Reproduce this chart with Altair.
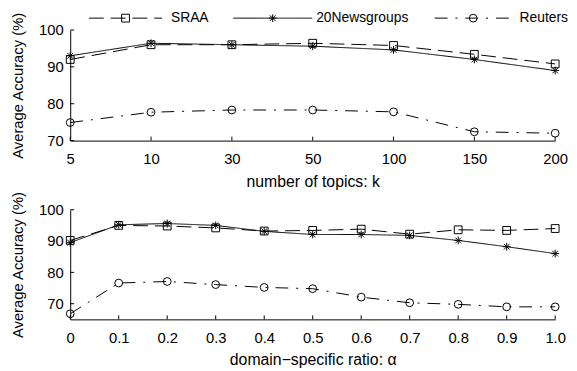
import altair as alt
import pandas as pd

# ---------------- data ----------------
series = ["SRAA", "20Newsgroups", "Reuters"]

k_labels = ["5", "10", "30", "50", "100", "150", "200"]
sraa_k = [92.0, 96.0, 96.0, 96.4, 95.8, 93.4, 90.8]
news_k = [93.0, 96.4, 96.0, 95.6, 94.6, 92.0, 89.0]
reuters_k = [74.9, 77.7, 78.3, 78.3, 77.8, 72.4, 72.0]

alpha_labels = ["0", "0.1", "0.2", "0.3", "0.4", "0.5", "0.6", "0.7", "0.8", "0.9", "1.0"]
sraa_a = [90.2, 95.0, 94.8, 94.2, 93.2, 93.4, 93.8, 92.2, 93.6, 93.4, 94.0]
news_a = [89.5, 95.2, 95.6, 95.0, 93.1, 92.1, 92.1, 91.8, 90.2, 88.2, 86.0]
reuters_a = [66.8, 76.6, 77.1, 76.1, 75.2, 74.8, 72.1, 70.3, 69.8, 69.0, 69.0]

y_ticks = [70, 80, 90, 100]

# ---------------- styles ----------------
FONT = "Liberation Sans"
W = 491
H_TOP = 112
H_BOT = 111
ASTERISK = "M-1,0L1,0M0,-1L0,1M-0.72,-0.72L0.72,0.72M-0.72,0.72L0.72,-0.72"
shapes = ["square", ASTERISK, "circle"]
dashes = [[15, 7], [1, 0], [13, 8, 2, 8]]


def long_df(xname, labels, cols):
    rows = []
    for s, vals in zip(series, cols):
        for lab, v in zip(labels, vals):
            rows.append({xname: lab, "series": s, "acc": v})
    return pd.DataFrame(rows)


df_k = long_df("k", k_labels, [sraa_k, news_k, reuters_k])
df_a = long_df("a", alpha_labels, [sraa_a, news_a, reuters_a])


def panel(df, xname, labels, title, ymin, h, with_legend):
    xs = alt.Scale(type="point", padding=0, domain=labels)
    ys = alt.Scale(domain=[ymin, 100], nice=False, zero=False)
    x_axis = alt.Axis(title=title, labelAngle=0, ticks=False, labelPadding=11,
                      titlePadding=7, domainColor="black", labelColor="black",
                      titleColor="black", grid=False, labelFont=FONT, titleFont=FONT,
                      labelFontSize=15, titleFontSize=16, titleFontWeight="normal")
    y_axis = alt.Axis(title="Average Accuracy (%)", values=y_ticks, ticks=False,
                      labelPadding=7, titlePadding=13, domainColor="black",
                      labelColor="black", titleColor="black", grid=False, labelFont=FONT,
                      titleFont=FONT, labelFontSize=15, titleFontSize=15,
                      titleFontWeight="normal")
    base = alt.Chart(df)
    x = alt.X(f"{xname}:O", scale=xs, axis=x_axis, sort=labels)
    y = alt.Y("acc:Q", scale=ys, axis=y_axis)
    lines = base.mark_line(color="black", strokeWidth=1).encode(
        x=x, y=y,
        strokeDash=alt.StrokeDash("series:N", scale=alt.Scale(domain=series, range=dashes), legend=None),
    )
    points = base.mark_point(color="black", filled=False, strokeWidth=1, opacity=1, size=62).encode(
        x=x, y=y,
        shape=alt.Shape("series:N", scale=alt.Scale(domain=series, range=shapes), legend=None),
    )
    xt = alt.Chart(pd.DataFrame({xname: labels})).mark_rule(color="black", strokeWidth=1).encode(
        x=alt.X(f"{xname}:O", scale=xs, sort=labels, axis=x_axis),
        y=alt.value(h), y2=alt.value(h - 4),
    )
    yt = alt.Chart(pd.DataFrame({"acc": y_ticks})).mark_rule(color="black", strokeWidth=1).encode(
        y=alt.Y("acc:Q", scale=ys, axis=y_axis),
        x=alt.value(0), x2=alt.value(4),
    )
    layers = [lines, points, xt, yt]
    if with_legend:
        LY = -12
        # sample start, sample end, text start (pixels from plot left)
        pos = [(19, 93, 102), (165, 245, 249), (369, 447, 455)]
        for i, s in enumerate(series):
            x0, x1, tx = pos[i]
            one = alt.Chart(pd.DataFrame({"series": [s]}))
            layers.append(one.mark_rule(color="black", strokeWidth=1, strokeDash=dashes[i]).encode(
                x=alt.value(x0), x2=alt.value(x1), y=alt.value(LY)))
            layers.append(one.mark_point(color="black", filled=False, strokeWidth=1, opacity=1,
                                         size=62, shape=shapes[i]).encode(
                x=alt.value((x0 + x1) / 2), y=alt.value(LY)))
            layers.append(one.mark_text(align="left", baseline="middle", font=FONT,
                                        fontSize=14, color="black").encode(
                text="series:N", x=alt.value(tx), y=alt.value(LY)))
    return alt.layer(*layers).properties(width=W, height=h)


top = panel(df_k, "k", k_labels, "number of topics: k", 70, H_TOP, True)
bot = panel(df_a, "a", alpha_labels, "domain\u2212specific ratio: \u03b1", 65, H_BOT, False)

chart = alt.vconcat(top, bot, spacing=2).properties(
    padding={"left": 2, "top": 1, "right": 0, "bottom": 0},
    background="white",
).configure_view(strokeWidth=0).configure_axis(domainWidth=1)

chart.save("out.html", embed_options={"renderer": "svg", "actions": False})
